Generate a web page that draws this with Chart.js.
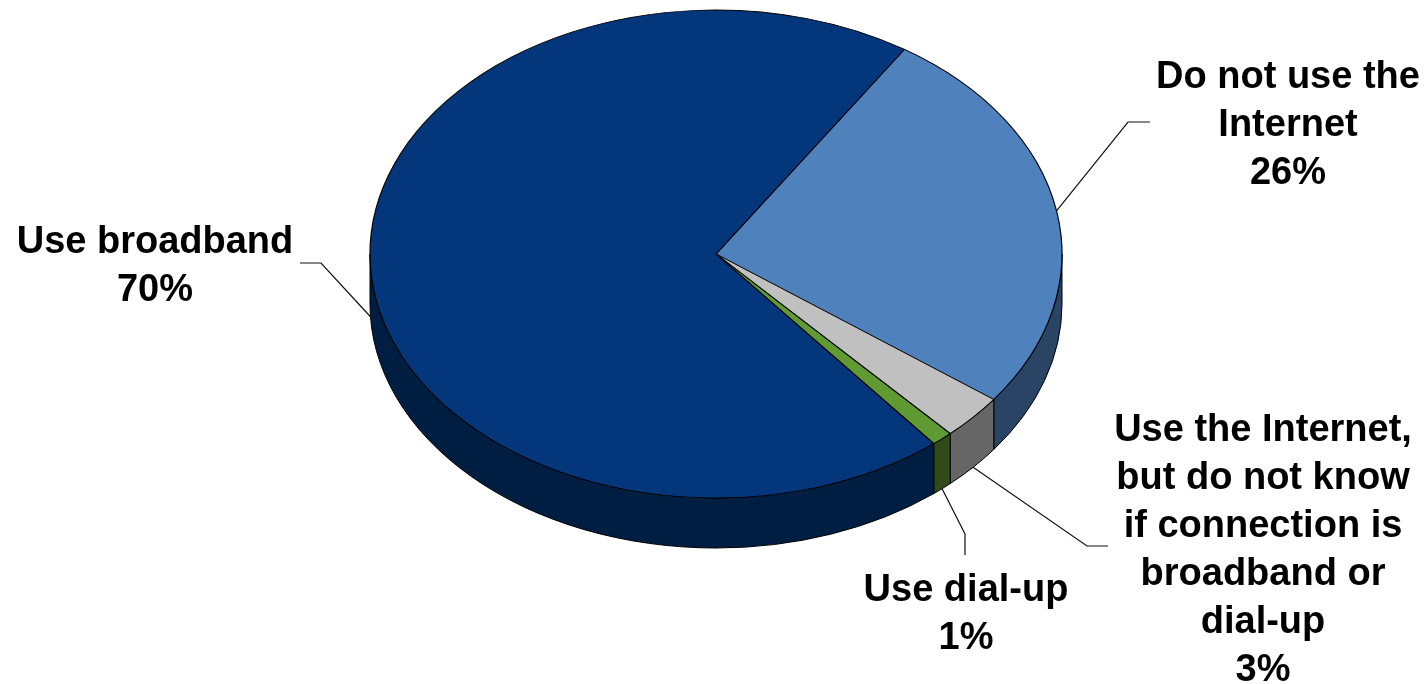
<!DOCTYPE html>
<html>
<head>
<meta charset="utf-8">
<title>Internet use</title>
<script src="https://cdn.jsdelivr.net/npm/chart.js@4/dist/chart.umd.min.js"></script>
<style>
  html, body { margin: 0; background: #fff; }
  canvas { display: block; }
</style>
</head>
<body>
<canvas id="graficoPizza" width="1426" height="684"></canvas>
<script>
// data
const categories = ['Do not use the Internet', 'Use the Internet, but do not know if connection is broadband or dial-up', 'Use dial-up', 'Use broadband'];
const values = [26, 3, 1, 70];
const labelLines = [
    ['Do not use the', 'Internet', '26%'],
    ['Use the Internet,', 'but do not know', 'if connection is', 'broadband or', 'dial-up', '3%'],
    ['Use dial-up', '1%'],
    ['Use broadband', '70%']
];

// styles
const topColors = ['#4F81BD', '#C0C0C0', '#5F9A32', '#03367A'];
const sideColors = ['#2A4466', '#666666', '#304A18', '#001E42'];

// pie squashed into an ellipse with a wall under it
const pie3d = { cx: 716, cy: 254, rx: 346, ry: 244, depth: 50 };

// label placement: centre x, first line y, leader elbow and leader end
const labelPos = [
    { x: 1288, y: 78, elbow: [1128, 122], end: [1150, 122], onWall: false },
    { x: 1263, y: 431, elbow: [1087, 546], end: [1108, 546], onWall: true },
    { x: 966, y: 591, elbow: [965, 534], end: [965, 555], onWall: true },
    { x: 155, y: 243, elbow: [321, 263], end: [300, 263], onWall: true }
];
const lineGap = 48;

const squashPlugin = {
    id: 'squash',
    beforeDatasetsDraw(chart) {
        const ctx = chart.ctx;
        const arcs = chart.getDatasetMeta(0).data;

        // wall first, only the front half of the ellipse shows
        arcs.forEach((arc, i) => {
            const a = Math.max(norm(arc.startAngle), 0);
            const b = Math.min(norm(arc.startAngle) + (arc.endAngle - arc.startAngle), Math.PI);
            if (b <= a) return;
            ctx.beginPath();
            ctx.ellipse(pie3d.cx, pie3d.cy, pie3d.rx, pie3d.ry, 0, a, b);
            ctx.ellipse(pie3d.cx, pie3d.cy + pie3d.depth, pie3d.rx, pie3d.ry, 0, b, a, true);
            ctx.closePath();
            ctx.fillStyle = sideColors[i];
            ctx.fill();
            ctx.strokeStyle = '#000';
            ctx.lineWidth = 1;
            ctx.stroke();
        });

        // top face is the library's own arcs under a transform
        const r = arcs[0].outerRadius;
        ctx.save();
        ctx.translate(pie3d.cx, pie3d.cy);
        ctx.scale(pie3d.rx / r, pie3d.ry / r);
        ctx.translate(-arcs[0].x, -arcs[0].y);
    },
    afterDatasetsDraw(chart) {
        chart.ctx.restore();
    },
    afterDraw(chart) {
        const ctx = chart.ctx;
        const arcs = chart.getDatasetMeta(0).data;

        arcs.forEach((arc, i) => {
            const pos = labelPos[i];
            const mid = (arc.startAngle + arc.endAngle) / 2;
            const ax = pie3d.cx + pie3d.rx * Math.cos(mid);
            const ay = pie3d.cy + pie3d.ry * Math.sin(mid) + (pos.onWall ? pie3d.depth : 0);

            ctx.beginPath();
            ctx.moveTo(ax, ay);
            ctx.lineTo(pos.elbow[0], pos.elbow[1]);
            ctx.lineTo(pos.end[0], pos.end[1]);
            ctx.strokeStyle = '#111';
            ctx.lineWidth = 1.2;
            ctx.stroke();

            ctx.fillStyle = '#000';
            ctx.font = 'bold 38px "Liberation Sans", Arial, sans-serif';
            ctx.textAlign = 'center';
            ctx.textBaseline = 'middle';
            labelLines[i].forEach((line, n) => {
                ctx.fillText(line, pos.x, pos.y + n * lineGap);
            });
        });
    }
};

// keeps an angle in -PI..PI so the wall clipping above works
function norm(a) {
    while (a > Math.PI) a -= Math.PI * 2;
    while (a < -Math.PI) a += Math.PI * 2;
    return a;
}

new Chart(document.getElementById('graficoPizza').getContext('2d'), {
    type: 'pie',
    data: {
        labels: categories,
        datasets: [{
            data: values,
            backgroundColor: topColors,
            borderColor: '#000',
            borderWidth: 1.2,
            clip: false
        }]
    },
    options: {
        responsive: false,
        animation: false,
        rotation: 33,
        plugins: {
            legend: { display: false },
            tooltip: { enabled: false }
        }
    },
    plugins: [squashPlugin]
});
</script>
</body>
</html>
